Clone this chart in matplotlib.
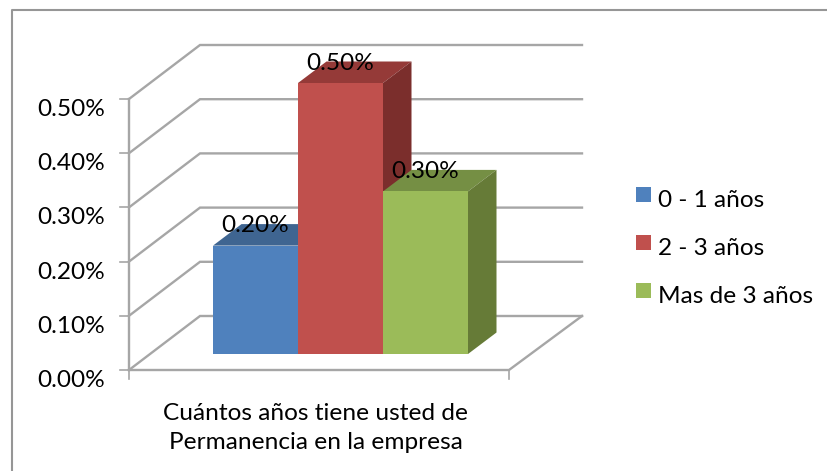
import matplotlib
matplotlib.use("Agg")
import matplotlib.pyplot as plt
from matplotlib.patches import Polygon, Rectangle

plt.rcParams['font.family'] = ['Lato', 'DejaVu Sans']

categorias = ["0 - 1 años", "2 - 3 años", "Mas de 3 años"]
valores = [0.20, 0.50, 0.30]
ticks = [0.0, 0.1, 0.2, 0.3, 0.4, 0.5]
etiquetas_ticks = ["0.00%", "0.10%", "0.20%", "0.30%", "0.40%", "0.50%"]
etiquetas = ["0.20%", "0.50%", "0.30%"]
titulo = "Cuántos años tiene usted de\nPermanencia en la empresa"

color_frente = ["#4F81BD", "#C0504D", "#9BBB59"]
color_arriba = ["#3F6591", "#953A38", "#758F44"]
color_lado = ["#385D8A", "#7B2E2C", "#667B37"]
gris = "#A6A6A6"
letra = 17.6

# escala: eje x en pixeles, eje y en valor (%)
px_por_unidad = 542
y_cero = 370

fig = plt.figure(figsize=(8.28, 4.71), dpi=100)
ax = fig.add_axes([0, 0, 1, 1])
ax.set_xlim(0, 828)
ax.set_ylim(-(471 - y_cero) / px_por_unidad, y_cero / px_por_unidad)
ax.axis("off")

x_frente = 129
x_fondo = 200
x_der = 582
x_frente_der = 509
prof = 54 / px_por_unidad  # subida del piso de adelante hacia atras

# pared del fondo, lineas de cada tick
for t in ticks:
    ax.plot([x_frente, x_fondo, x_der], [t, t + prof, t + prof], color=gris, lw=1.7, solid_joinstyle="miter", zorder=1)
    ax.plot([x_frente - 9, x_frente], [t, t], color=gris, lw=1.2, zorder=1)
ax.plot([x_frente, x_frente], [0, ticks[-1]], color=gris, lw=1.7, zorder=1)
ax.plot([x_frente, x_frente_der, x_der], [0, 0, prof], color=gris, lw=1.7, solid_joinstyle="miter", zorder=1)
ax.plot([x_frente, x_frente], [0, -9 / px_por_unidad], color=gris, lw=1.2, zorder=1)
ax.plot([x_frente_der, x_frente_der], [0, -9 / px_por_unidad], color=gris, lw=1.2, zorder=1)

# barras
x_barra = 213
ancho = 85
base = 16 / px_por_unidad
dx = 28.5
dy = 21.5 / px_por_unidad
for i in range(len(valores)):
    x0 = x_barra + i * ancho
    x1 = x0 + ancho
    tope = valores[i] + base
    ax.add_patch(Polygon([(x0, tope), (x1, tope), (x1 + dx, tope + dy), (x0 + dx, tope + dy)], color=color_arriba[i], lw=0, zorder=2 + i))
    ax.add_patch(Polygon([(x1, base), (x1, tope), (x1 + dx, tope + dy), (x1 + dx, base + dy)], color=color_lado[i], lw=0, zorder=2 + i))
    ax.add_patch(Rectangle((x0, base), ancho, valores[i], color=color_frente[i], lw=0, zorder=2 + i))

for i in range(len(valores)):
    ax.text(x_barra + (i + 0.5) * ancho, valores[i] + base + 20 / px_por_unidad, etiquetas[i],
            ha="center", va="center", fontsize=letra, color="black", zorder=10)

for t, e in zip(ticks, etiquetas_ticks):
    ax.text(105, t - 10.5 / px_por_unidad, e, ha="right", va="center", fontsize=letra, color="black")

ax.text(316, -(428 - y_cero) / px_por_unidad, titulo, ha="center", va="center", fontsize=letra, color="black", linespacing=1.45)

# leyenda
for i in range(len(categorias)):
    y_px = 194.5 + 48 * i
    ax.add_patch(Rectangle((636, (y_cero - y_px - 7.5) / px_por_unidad), 15, 15 / px_por_unidad, color=color_frente[i], lw=0))
    ax.text(658, (y_cero - y_px - 6) / px_por_unidad, categorias[i], ha="left", va="center", fontsize=letra, color="black")

# marco del grafico
ax.plot([12, 12, 828], [-(471 - y_cero) / px_por_unidad, (y_cero - 10) / px_por_unidad, (y_cero - 10) / px_por_unidad], color="#969696", lw=1.5, clip_on=False)

fig.savefig("out.png", dpi=100)
